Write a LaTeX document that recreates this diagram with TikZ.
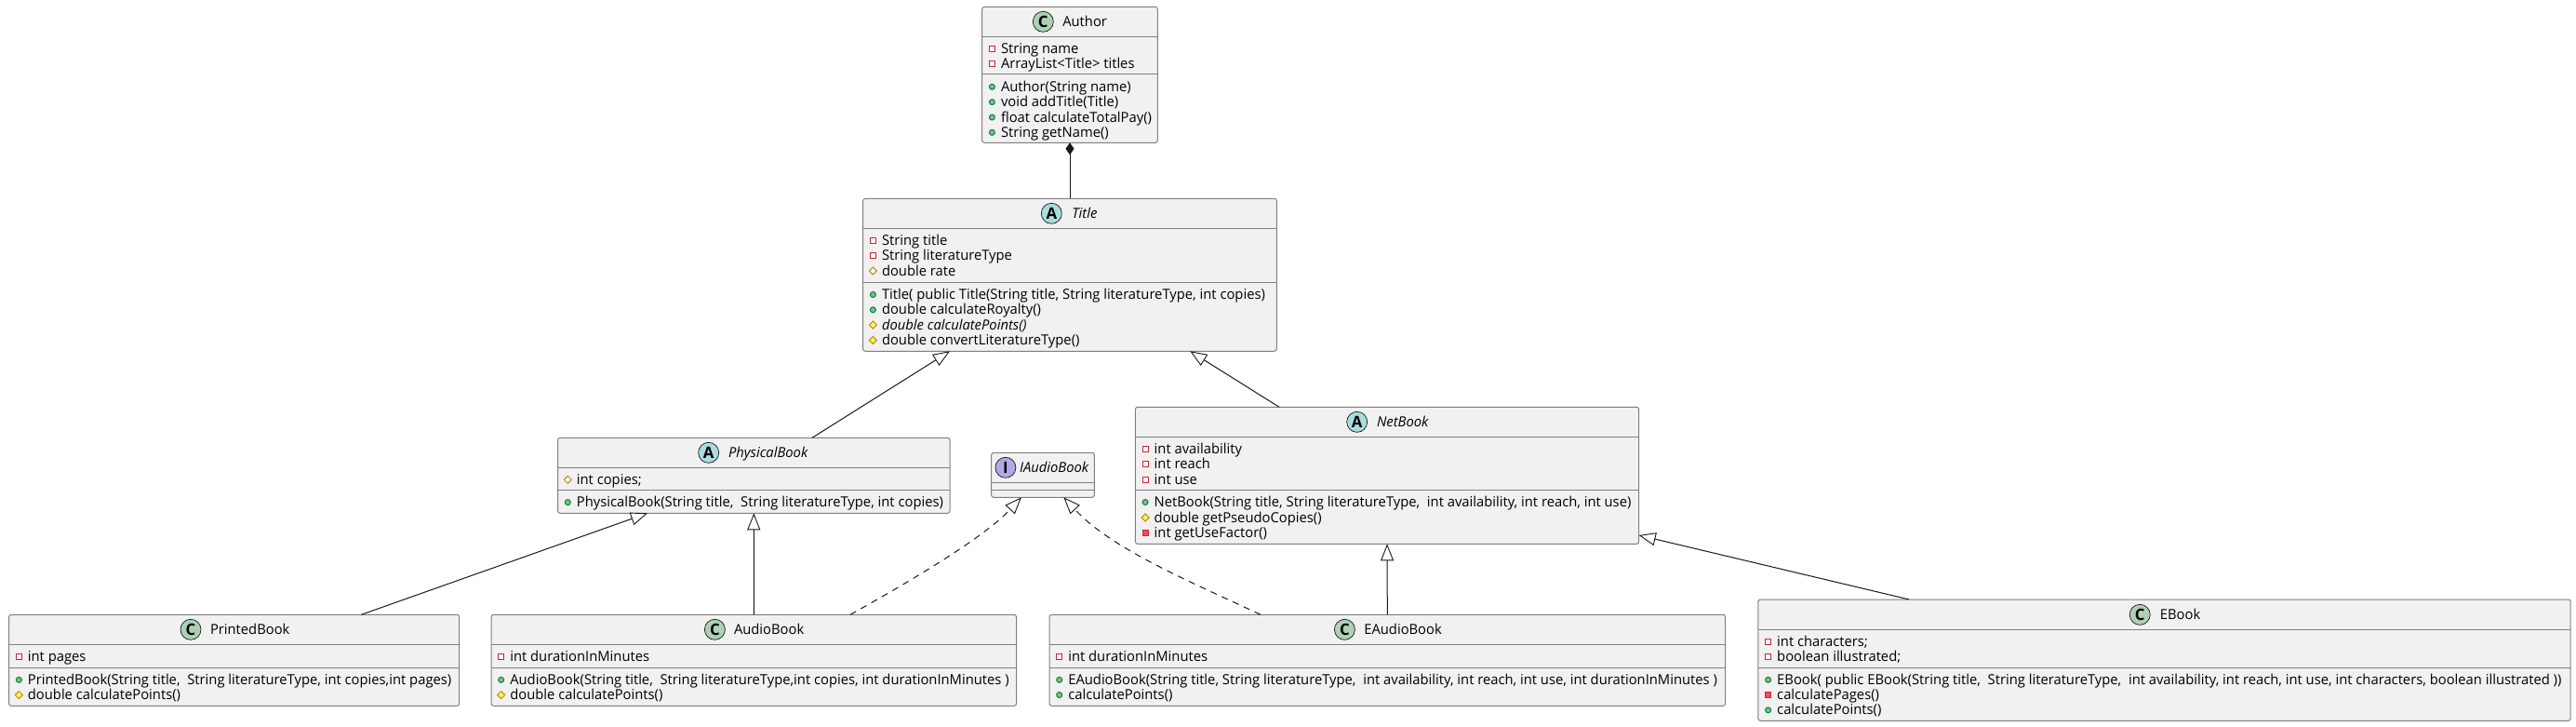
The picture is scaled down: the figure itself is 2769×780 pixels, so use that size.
\documentclass[tikz,border=0pt]{standalone}
\usepackage{fontspec}
\setmainfont{Open Sans}[FakeStretch=0.985]
\usetikzlibrary{arrows.meta}
\definecolor{boxfill}{HTML}{F1F1F1}
\definecolor{boxline}{HTML}{808080}
\definecolor{ink}{HTML}{181818}
\tikzset{
  classbox/.style={draw=boxline,fill=boxfill,line width=1pt,rounded corners=2.5pt,outer sep=0pt,inner sep=0pt},
  sepline/.style={draw=boxline,line width=1pt},
  badge/.style={circle,draw=ink,line width=.7pt,minimum size=22pt,inner sep=0pt,font=\fontsize{17}{17}\selectfont\bfseries},
  classbadge/.style={badge,fill=cbadge},
  absbadge/.style={badge,fill=abadge},
  ifacebadge/.style={badge,fill=ibadge},
  headtext/.style={anchor=base west,inner sep=0pt,outer sep=0pt,text=black,font=\fontsize{15}{15}\selectfont},
  abstext/.style={headtext,font=\fontsize{15}{15}\selectfont\itshape},
  memtext/.style={anchor=base west,inner sep=0pt,outer sep=0pt,text=black,font=\fontsize{15}{15}\selectfont},
  privf/.style={draw=privred,line width=1pt,fill=white},
  privm/.style={draw=privred,line width=1pt,fill=privfill},
  protf/.style={draw=protline,line width=1pt,fill=white},
  protm/.style={draw=protline,line width=1pt,fill=protfill},
  pubm/.style={draw=publine,line width=1pt,fill=pubfill},
  ext/.style={draw=ink,line width=1pt,-{Triangle[open,fill=white,length=18pt,width=14pt,line width=.9pt]}},
  impl/.style={ext,dash pattern=on 7pt off 6pt},
  comp/.style={draw=ink,line width=1pt,{Diamond[fill=ink,length=13pt,width=9pt]}-},
}
\definecolor{cbadge}{HTML}{ADD1B2}
\definecolor{abadge}{HTML}{A9DCDF}
\definecolor{ibadge}{HTML}{B4A7E5}
\definecolor{privred}{HTML}{C82930}
\definecolor{privfill}{HTML}{F24D5C}
\definecolor{protline}{HTML}{B38D22}
\definecolor{protfill}{HTML}{FFFF44}
\definecolor{publine}{HTML}{038048}
\definecolor{pubfill}{HTML}{84BE84}
\newcommand{\iconprivf}[2]{\path[privf,shift={(#1,#2)}] (-3,-3) rectangle (3,3);}
\newcommand{\iconprivm}[2]{\path[privm,shift={(#1,#2)}] (-3,-3) rectangle (3,3);}
\newcommand{\iconprotf}[2]{\path[protf,shift={(#1,#2)}] (-4,0) -- (0,-4) -- (4,0) -- (0,4) -- cycle;}
\newcommand{\iconprotm}[2]{\path[protm,shift={(#1,#2)}] (-4,0) -- (0,-4) -- (4,0) -- (0,4) -- cycle;}
\newcommand{\iconpubm}[2]{\path[pubm,shift={(#1,#2)}] (0,0) circle (3pt);}
% name, icon, box left, baseline, text
\newcommand{\member}[5]{%
  \pgfmathsetmacro{\ix}{#3+10.7}\pgfmathsetmacro{\iy}{#4-5}\pgfmathsetmacro{\tx}{#3+20.3}%
  \csname icon#2\endcsname{\ix}{\iy}%
  \node[memtext] (#1) at (\tx,#4) {#5};}
% box name, distance below top edge
\newcommand{\sepat}[2]{\draw[sepline] ([yshift=-#2pt]#1.north west) -- ([yshift=-#2pt]#1.north east);}
\begin{document}
\begin{tikzpicture}[x=1pt,y=-1pt]
\useasboundingbox (0,0) rectangle (2769,780);

\node[classbox,minimum width=188.6pt,minimum height=146pt] (Author) at (1150,80.3) {};
\node[classbox,minimum width=444.6pt,minimum height=164pt] (Title) at (1150,295.3) {};
\node[classbox,minimum width=421.4pt,minimum height=81pt] (PhysicalBook) at (810.3,510.8) {};
\node[classbox,minimum width=110.7pt,minimum height=48pt] (IAudioBook) at (1121.05,510.3) {};
\node[classbox,minimum width=541.3pt,minimum height=147pt] (NetBook) at (1491.05,510.8) {};
\node[classbox,minimum width=484.1pt,minimum height=98pt] (PrintedBook) at (251.65,709.3) {};
\node[classbox,minimum width=564.5pt,minimum height=98pt] (AudioBook) at (810.25,709.3) {};
\node[classbox,minimum width=726.6pt,minimum height=98pt] (EAudioBook) at (1491.3,709.3) {};
\node[classbox,minimum width=873.3pt,minimum height=130.3pt] (EBook) at (2326.55,709.15) {};

\sepat{Author}{32}\sepat{Author}{72}
\sepat{Title}{32}\sepat{Title}{90}
\sepat{PhysicalBook}{32}\sepat{PhysicalBook}{56}
\sepat{IAudioBook}{32}\sepat{IAudioBook}{40}
\sepat{NetBook}{32}\sepat{NetBook}{89.4}
\sepat{PrintedBook}{32}\sepat{PrintedBook}{57}
\sepat{AudioBook}{32}\sepat{AudioBook}{57}
\sepat{EAudioBook}{32}\sepat{EAudioBook}{57}
\sepat{EBook}{32.3}\sepat{EBook}{73.3}

% headers
\node[classbadge] (AuthorBadge) at (1121.3,23.3) {C};
\node[headtext] (AuthorName) at (1142.3,28.3) {Author};
\node[absbadge] (TitleBadge) at (1130.3,229.3) {A};
\node[abstext] (TitleName) at (1152.3,234.3) {Title};
\node[absbadge] (PhysicalBadge) at (761.7,486.3) {A};
\node[abstext] (PhysicalName) at (783,491.3) {PhysicalBook};
\node[ifacebadge] (IAudioBadge) at (1080.9,502.3) {I};
\node[abstext] (IAudioName) at (1096,507.3) {IAudioBook};
\node[absbadge] (NetBadge) at (1458.7,453.3) {A};
\node[abstext] (NetName) at (1480,458.3) {NetBook};
\node[classbadge] (PrintedBadge) at (205,676.3) {C};
\node[headtext] (PrintedName) at (226,681.3) {PrintedBook};
\node[classbadge] (AudioBadge) at (768.4,676.3) {C};
\node[headtext] (AudioName) at (789,681.3) {AudioBook};
\node[classbadge] (EAudioBadge) at (1445.4,676.3) {C};
\node[headtext] (EAudioName) at (1466.3,681.3) {EAudioBook};
\node[classbadge] (EBookBadge) at (2300.2,660.3) {C};
\node[headtext] (EBookName) at (2321.9,665.3) {EBook};

% Author
\member{a1}{privf}{1055.7}{57.3}{String name}
\member{a2}{privf}{1055.7}{73.7}{ArrayList<Title> titles}
\member{a3}{pubm}{1055.7}{98.3}{Author(String name)}
\member{a4}{pubm}{1055.7}{114.6}{void addTitle(Title)}
\member{a5}{pubm}{1055.7}{131}{float calculateTotalPay()}
\member{a6}{pubm}{1055.7}{147.3}{String getName()}
% Title
\member{t1}{privf}{927.7}{263.3}{String title}
\member{t2}{privf}{927.7}{279.7}{String literatureType}
\member{t3}{protf}{927.7}{296}{double rate}
\member{t4}{pubm}{927.7}{321.5}{Title( public Title(String title, String literatureType, int copies)}
\member{t5}{pubm}{927.7}{337.8}{double calculateRoyalty()}
\member{t6}{protm}{927.7}{354.1}{\itshape double calculatePoints()}
\member{t7}{protm}{927.7}{370.5}{double convertLiteratureType()}
% PhysicalBook
\member{p1}{protf}{599.6}{520.3}{int copies;}
\member{p2}{pubm}{599.6}{544.6}{PhysicalBook(String title,~ String literatureType, int copies)}
% NetBook
\member{n1}{privf}{1220.4}{487.3}{int availability}
\member{n2}{privf}{1220.4}{503.6}{int reach}
\member{n3}{privf}{1220.4}{520}{int use}
\member{n4}{pubm}{1220.4}{544.5}{NetBook(String title, String literatureType,~ int availability, int reach, int use)}
\member{n5}{protm}{1220.4}{561}{double getPseudoCopies()}
\member{n6}{privm}{1220.4}{577.3}{int getUseFactor()}
% PrintedBook
\member{r1}{privf}{9.6}{710.3}{int pages}
\member{r2}{pubm}{9.6}{735.3}{PrintedBook(String title,~ String literatureType, int copies,int pages)}
\member{r3}{protm}{9.6}{751.5}{double calculatePoints()}
% AudioBook
\member{u1}{privf}{528}{710.3}{int durationInMinutes}
\member{u2}{pubm}{528}{735.3}{AudioBook(String title,~ String literatureType,int copies, int durationInMinutes )}
\member{u3}{protm}{528}{751.5}{double calculatePoints()}
% EAudioBook
\member{e1}{privf}{1128}{710.3}{int durationInMinutes}
\member{e2}{pubm}{1128}{735.3}{EAudioBook(String title, String literatureType,~ int availability, int reach, int use, int durationInMinutes )}
\member{e3}{pubm}{1128}{751.5}{calculatePoints()}
% EBook
\member{b1}{privf}{1889.9}{694.3}{int characters;}
\member{b2}{privf}{1889.9}{710.4}{boolean illustrated;}
\member{b3}{pubm}{1889.9}{735.3}{EBook( public EBook(String title,~ String literatureType,~ int availability, int reach, int use, int characters, boolean illustrated ))}
\member{b4}{privm}{1889.9}{751.5}{calculatePages()}
\member{b5}{pubm}{1889.9}{767.8}{calculatePoints()}

% connectors
\draw[comp] (Author.south) -- (Title.north);
\draw[ext] ([xshift=273.4pt]PhysicalBook.north west) -- ([xshift=93.3pt]Title.south west);
\draw[ext] ([xshift=154.6pt]NetBook.north west) -- ([xshift=351.6pt]Title.south west);
\draw[ext] ([xshift=378.8pt]PrintedBook.north west) -- ([xshift=96.4pt]PhysicalBook.south west);
\draw[ext] (AudioBook.north) -- (PhysicalBook.south);
\draw[ext] (EAudioBook.north) -- (NetBook.south);
\draw[ext] ([xshift=162.3pt]EBook.north west) -- ([yshift=9.3pt]NetBook.south east);
\draw[impl] ([xshift=386pt]AudioBook.north west) .. controls (990,618) and (1060,575) .. ([xshift=32.2pt]IAudioBook.south west);
\draw[impl] ([xshift=227pt]EAudioBook.north west) .. controls (1280,625) and (1195,590) .. ([xshift=77.7pt]IAudioBook.south west);
\end{tikzpicture}
\end{document}
